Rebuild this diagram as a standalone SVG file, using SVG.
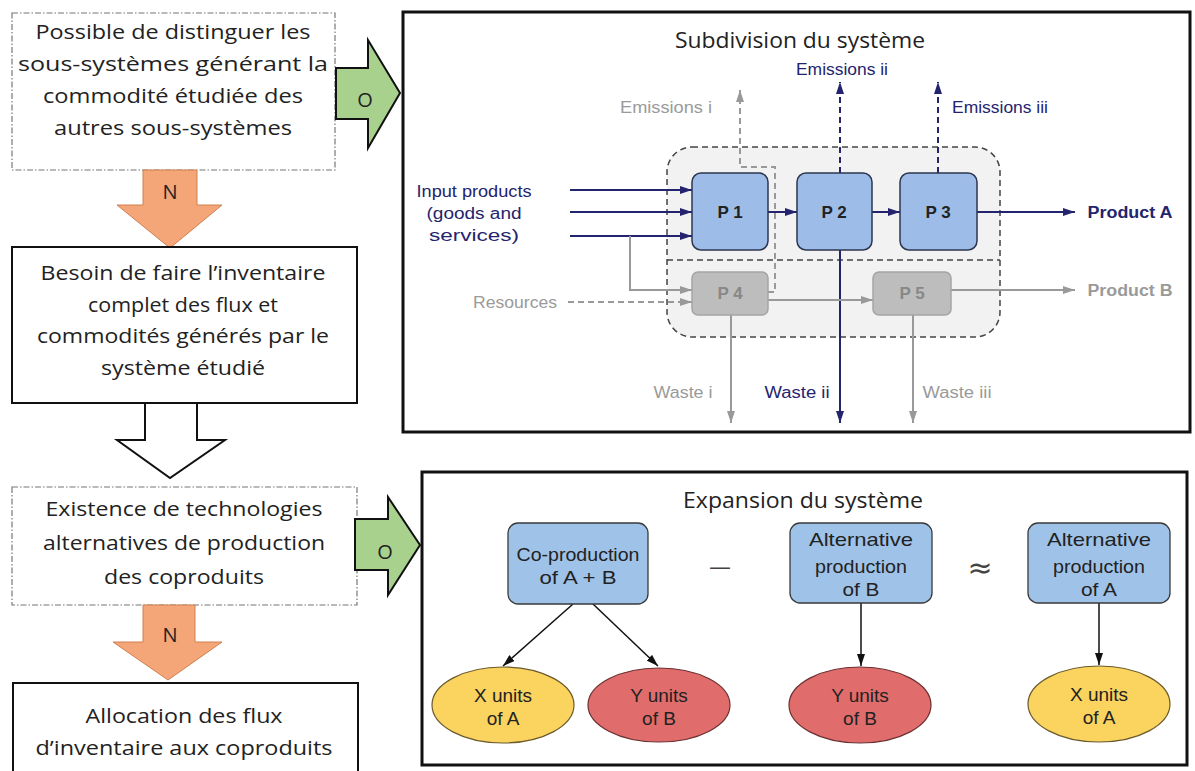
<svg xmlns="http://www.w3.org/2000/svg" width="1195" height="771" viewBox="0 0 1195 771">
<style>
.lt{font-family:"Open Sans","Liberation Sans",sans-serif;font-size:20px;fill:#222;text-anchor:middle}
.tt{font-family:"Open Sans","Liberation Sans",sans-serif;font-size:22px;fill:#222;text-anchor:middle}
.lab{font-family:"Open Sans","Liberation Sans",sans-serif;font-size:20px;fill:#222;text-anchor:middle}
.s{font-family:"Liberation Sans",Arial,sans-serif;font-size:16px;text-anchor:middle}
.p{font-family:"Liberation Sans",Arial,sans-serif;font-size:17px;font-weight:bold;text-anchor:middle}
.m{font-family:"Liberation Sans",Arial,sans-serif;font-size:19px;text-anchor:middle;fill:#222}
.sym{font-family:"DejaVu Sans","Liberation Sans",sans-serif;text-anchor:middle;fill:#444}
.nv{fill:#24246e}
.gr{fill:#9a9a9a}
.b{font-weight:bold}
.dd{fill:#fff;stroke:#777;stroke-width:1.2;stroke-dasharray:6 2 1.5 2}
.sb{fill:#fff;stroke:#111;stroke-width:2}
.green{fill:#a9d18e;stroke:#111;stroke-width:2}
.orange{fill:#f4a679;stroke:#d08050;stroke-width:1}
.frame{fill:none;stroke:#111;stroke-width:3}
.pb{fill:#9dbde8;stroke:#2d3650;stroke-width:1.5}
.pg{fill:#bdbdbd;stroke:#a5a5a5;stroke-width:1.5}
.bb{fill:#9fc3e8;stroke:#3a3a3a;stroke-width:1.3}
.ye{fill:#fbd35f;stroke:#6b5a2a;stroke-width:1.2}
.re{fill:#e06c6c;stroke:#6b3030;stroke-width:1.2}
.cn{fill:none;stroke:#24246e;stroke-width:2}
.cg{fill:none;stroke:#999;stroke-width:2}
.ck{fill:none;stroke:#111;stroke-width:1.5}
.dash{stroke-dasharray:6 4}
</style>
<defs>
<marker id="hn" viewBox="0 0 12 8" refX="12" refY="4" markerWidth="12" markerHeight="8" markerUnits="userSpaceOnUse" orient="auto"><path d="M0,0 L12,4 L0,8 z" fill="#24246e"/></marker>
<marker id="hg" viewBox="0 0 12 8" refX="12" refY="4" markerWidth="12" markerHeight="8" markerUnits="userSpaceOnUse" orient="auto"><path d="M0,0 L12,4 L0,8 z" fill="#999"/></marker>
<marker id="hk" viewBox="0 0 12 8" refX="12" refY="4" markerWidth="12" markerHeight="8" markerUnits="userSpaceOnUse" orient="auto"><path d="M0,0 L12,4 L0,8 z" fill="#111"/></marker>
</defs>
<rect width="1195" height="771" fill="#fff"/>

<!-- Left column -->
<g id="box1">
<rect class="dd" x="12" y="13" width="323" height="157"/>
<text class="lt" x="173" y="39" textLength="275" lengthAdjust="spacingAndGlyphs">Possible de distinguer les</text>
<text class="lt" x="173" y="71" textLength="310" lengthAdjust="spacingAndGlyphs">sous-systèmes générant la</text>
<text class="lt" x="173" y="103" textLength="260" lengthAdjust="spacingAndGlyphs">commodité étudiée des</text>
<text class="lt" x="173" y="135" textLength="238" lengthAdjust="spacingAndGlyphs">autres sous-systèmes</text>
</g>
<g id="arrowO1">
<polygon class="green" points="336,68 368,68 368,40 400,93 368,148 368,119 336,119"/>
<text class="lab" x="365" y="107">O</text>
</g>
<g id="arrowN1">
<polygon class="orange" points="143,170 197,170 197,205 222,205 170,248 117,205 143,205"/>
<text class="lab" x="170" y="199">N</text>
</g>
<g id="box2">
<rect class="sb" x="12" y="247" width="345" height="156"/>
<text class="lt" x="183" y="280" textLength="285" lengthAdjust="spacingAndGlyphs">Besoin de faire l’inventaire</text>
<text class="lt" x="183" y="312" textLength="190" lengthAdjust="spacingAndGlyphs">complet des flux et</text>
<text class="lt" x="183" y="343" textLength="292" lengthAdjust="spacingAndGlyphs">commodités générés par le</text>
<text class="lt" x="183" y="375" textLength="164" lengthAdjust="spacingAndGlyphs">système étudié</text>
</g>
<g id="arrowWhite">
<polygon class="sb" points="145,403 197,403 197,440 225,440 170,478 117,440 145,440"/>
</g>
<g id="box3">
<rect class="dd" x="12" y="487" width="345" height="118"/>
<text class="lt" x="184" y="516" textLength="277" lengthAdjust="spacingAndGlyphs">Existence de technologies</text>
<text class="lt" x="184" y="550" textLength="282" lengthAdjust="spacingAndGlyphs">alternatives de production</text>
<text class="lt" x="184" y="584" textLength="160" lengthAdjust="spacingAndGlyphs">des coproduits</text>
</g>
<g id="arrowO2">
<polygon class="green" points="355,519 388,519 388,497 420,545 388,595 388,570 355,570"/>
<text class="lab" x="385" y="559">O</text>
</g>
<g id="arrowN2">
<polygon class="orange" points="143,605 195,605 195,642 222,642 168,680 113,642 143,642"/>
<text class="lab" x="170" y="642">N</text>
</g>
<g id="box4">
<rect class="sb" x="13" y="683" width="345" height="100" stroke-width="3"/>
<text class="lt" x="184" y="723" textLength="197" lengthAdjust="spacingAndGlyphs">Allocation des flux</text>
<text class="lt" x="184" y="755" textLength="297" lengthAdjust="spacingAndGlyphs">d’inventaire aux coproduits</text>
</g>

<!-- Panels -->
<g id="panelSubdivision">
<rect class="frame" x="403" y="12" width="787" height="420"/>
<text class="tt" x="800" y="48" textLength="250" lengthAdjust="spacingAndGlyphs">Subdivision du système</text>
<rect x="667" y="147" width="333" height="190" rx="25" fill="#f2f2f2" stroke="#444" stroke-width="1.5" stroke-dasharray="6 4"/>
<line x1="667" y1="260" x2="1000" y2="260" stroke="#444" stroke-width="1.5" stroke-dasharray="6 4"/>
</g>
<g id="panelExpansion">
<rect class="frame" x="422" y="472" width="765" height="293" stroke-width="2.5"/>
<text class="tt" x="803" y="508" textLength="240" lengthAdjust="spacingAndGlyphs">Expansion du système</text>
<text class="sym" x="720" y="574" style="font-size:22px">—</text>
<text class="sym" x="980" y="578" style="font-size:30px">≈</text>
</g>

<g id="connectors">
<line class="cn" x1="570" y1="190" x2="692" y2="190" marker-end="url(#hn)"/>
<line class="cn" x1="570" y1="212" x2="692" y2="212" marker-end="url(#hn)"/>
<line class="cn" x1="570" y1="236" x2="692" y2="236" marker-end="url(#hn)"/>
<line class="cn" x1="768" y1="212" x2="797" y2="212" marker-end="url(#hn)"/>
<line class="cn" x1="872" y1="212" x2="900" y2="212" marker-end="url(#hn)"/>
<line class="cn" x1="977" y1="212" x2="1075" y2="212" marker-end="url(#hn)"/>
<line class="cn dash" x1="840" y1="173" x2="840" y2="82" marker-end="url(#hn)"/>
<line class="cn dash" x1="938" y1="173" x2="938" y2="82" marker-end="url(#hn)"/>
<line class="cn" x1="840" y1="250" x2="840" y2="423" marker-end="url(#hn)"/>
<path class="cg" d="M630,236 V290 H692" marker-end="url(#hg)"/>
<line class="cg dash" x1="568" y1="302" x2="692" y2="302" marker-end="url(#hg)"/>
<line class="cg" x1="768" y1="300" x2="873" y2="300" marker-end="url(#hg)"/>
<line class="cg" x1="951" y1="290" x2="1075" y2="290" marker-end="url(#hg)"/>
<path class="cg dash" d="M768,292 H775 V167 H740 V90" marker-end="url(#hg)"/>
<line class="cg" x1="731" y1="315" x2="731" y2="423" marker-end="url(#hg)"/>
<line class="cg" x1="913" y1="314" x2="913" y2="423" marker-end="url(#hg)"/>
<line class="ck" x1="573" y1="604" x2="503" y2="666" marker-end="url(#hk)"/>
<line class="ck" x1="593" y1="604" x2="658" y2="666" marker-end="url(#hk)"/>
<line class="ck" x1="861" y1="603" x2="861" y2="666" marker-end="url(#hk)"/>
<line class="ck" x1="1099" y1="603" x2="1099" y2="665" marker-end="url(#hk)"/>
</g>

<g id="P1"><rect class="pb" x="692" y="173" width="76" height="77" rx="9"/><text class="p" x="730" y="218" fill="#222">P 1</text></g>
<g id="P2"><rect class="pb" x="797" y="173" width="75" height="77" rx="9"/><text class="p" x="834" y="218" fill="#222">P 2</text></g>
<g id="P3"><rect class="pb" x="900" y="173" width="77" height="77" rx="9"/><text class="p" x="938" y="218" fill="#222">P 3</text></g>
<g id="P4"><rect class="pg" x="692" y="272" width="76" height="43" rx="6"/><text class="p" x="730" y="299" fill="#888">P 4</text></g>
<g id="P5"><rect class="pg" x="873" y="272" width="78" height="43" rx="6"/><text class="p" x="912" y="299" fill="#888">P 5</text></g>

<g id="labelsSubdivision">
<text class="s nv" x="474" y="197" textLength="115" lengthAdjust="spacingAndGlyphs">Input products</text>
<text class="s nv" x="474" y="219" textLength="95" lengthAdjust="spacingAndGlyphs">(goods and</text>
<text class="s nv" x="474" y="241" textLength="90" lengthAdjust="spacingAndGlyphs">services)</text>
<text class="s gr" x="666" y="113" textLength="92" lengthAdjust="spacingAndGlyphs">Emissions i</text>
<text class="s nv" x="842" y="75" textLength="92" lengthAdjust="spacingAndGlyphs">Emissions ii</text>
<text class="s nv" x="1000" y="113" textLength="96" lengthAdjust="spacingAndGlyphs">Emissions iii</text>
<text class="s b nv" x="1130" y="218" textLength="85" lengthAdjust="spacingAndGlyphs">Product A</text>
<text class="s b gr" x="1130" y="296" textLength="85" lengthAdjust="spacingAndGlyphs">Product B</text>
<text class="s gr" x="515" y="308" textLength="84" lengthAdjust="spacingAndGlyphs">Resources</text>
<text class="s gr" x="683" y="398" textLength="59" lengthAdjust="spacingAndGlyphs">Waste i</text>
<text class="s nv" x="797" y="398" textLength="65" lengthAdjust="spacingAndGlyphs">Waste ii</text>
<text class="s gr" x="957" y="398" textLength="69" lengthAdjust="spacingAndGlyphs">Waste iii</text>
</g>

<g id="coprod"><rect class="bb" x="508" y="523" width="140" height="81" rx="10"/>
<text class="m" x="578" y="561" textLength="123" lengthAdjust="spacingAndGlyphs">Co-production</text>
<text class="m" x="578" y="584" textLength="77" lengthAdjust="spacingAndGlyphs">of  A + B</text></g>
<g id="altB"><rect class="bb" x="790" y="523" width="142" height="80" rx="10"/>
<text class="m" x="861" y="546" textLength="104" lengthAdjust="spacingAndGlyphs">Alternative</text>
<text class="m" x="861" y="573" textLength="92" lengthAdjust="spacingAndGlyphs">production</text>
<text class="m" x="861" y="596" textLength="37" lengthAdjust="spacingAndGlyphs">of B</text></g>
<g id="altA"><rect class="bb" x="1028" y="523" width="142" height="80" rx="10"/>
<text class="m" x="1099" y="546" textLength="104" lengthAdjust="spacingAndGlyphs">Alternative</text>
<text class="m" x="1099" y="573" textLength="92" lengthAdjust="spacingAndGlyphs">production</text>
<text class="m" x="1099" y="596" textLength="36" lengthAdjust="spacingAndGlyphs">of A</text></g>
<g id="xA1"><ellipse class="ye" cx="503" cy="705" rx="71" ry="38"/><text class="m" x="503" y="702">X units</text><text class="m" x="503" y="725">of A</text></g>
<g id="yB1"><ellipse class="re" cx="659" cy="705" rx="71" ry="37"/><text class="m" x="659" y="702">Y units</text><text class="m" x="659" y="725">of B</text></g>
<g id="yB2"><ellipse class="re" cx="860" cy="705" rx="71" ry="38"/><text class="m" x="860" y="702">Y units</text><text class="m" x="860" y="725">of B</text></g>
<g id="xA2"><ellipse class="ye" cx="1099" cy="704" rx="71" ry="38"/><text class="m" x="1099" y="701">X units</text><text class="m" x="1099" y="724">of A</text></g>
</svg>
